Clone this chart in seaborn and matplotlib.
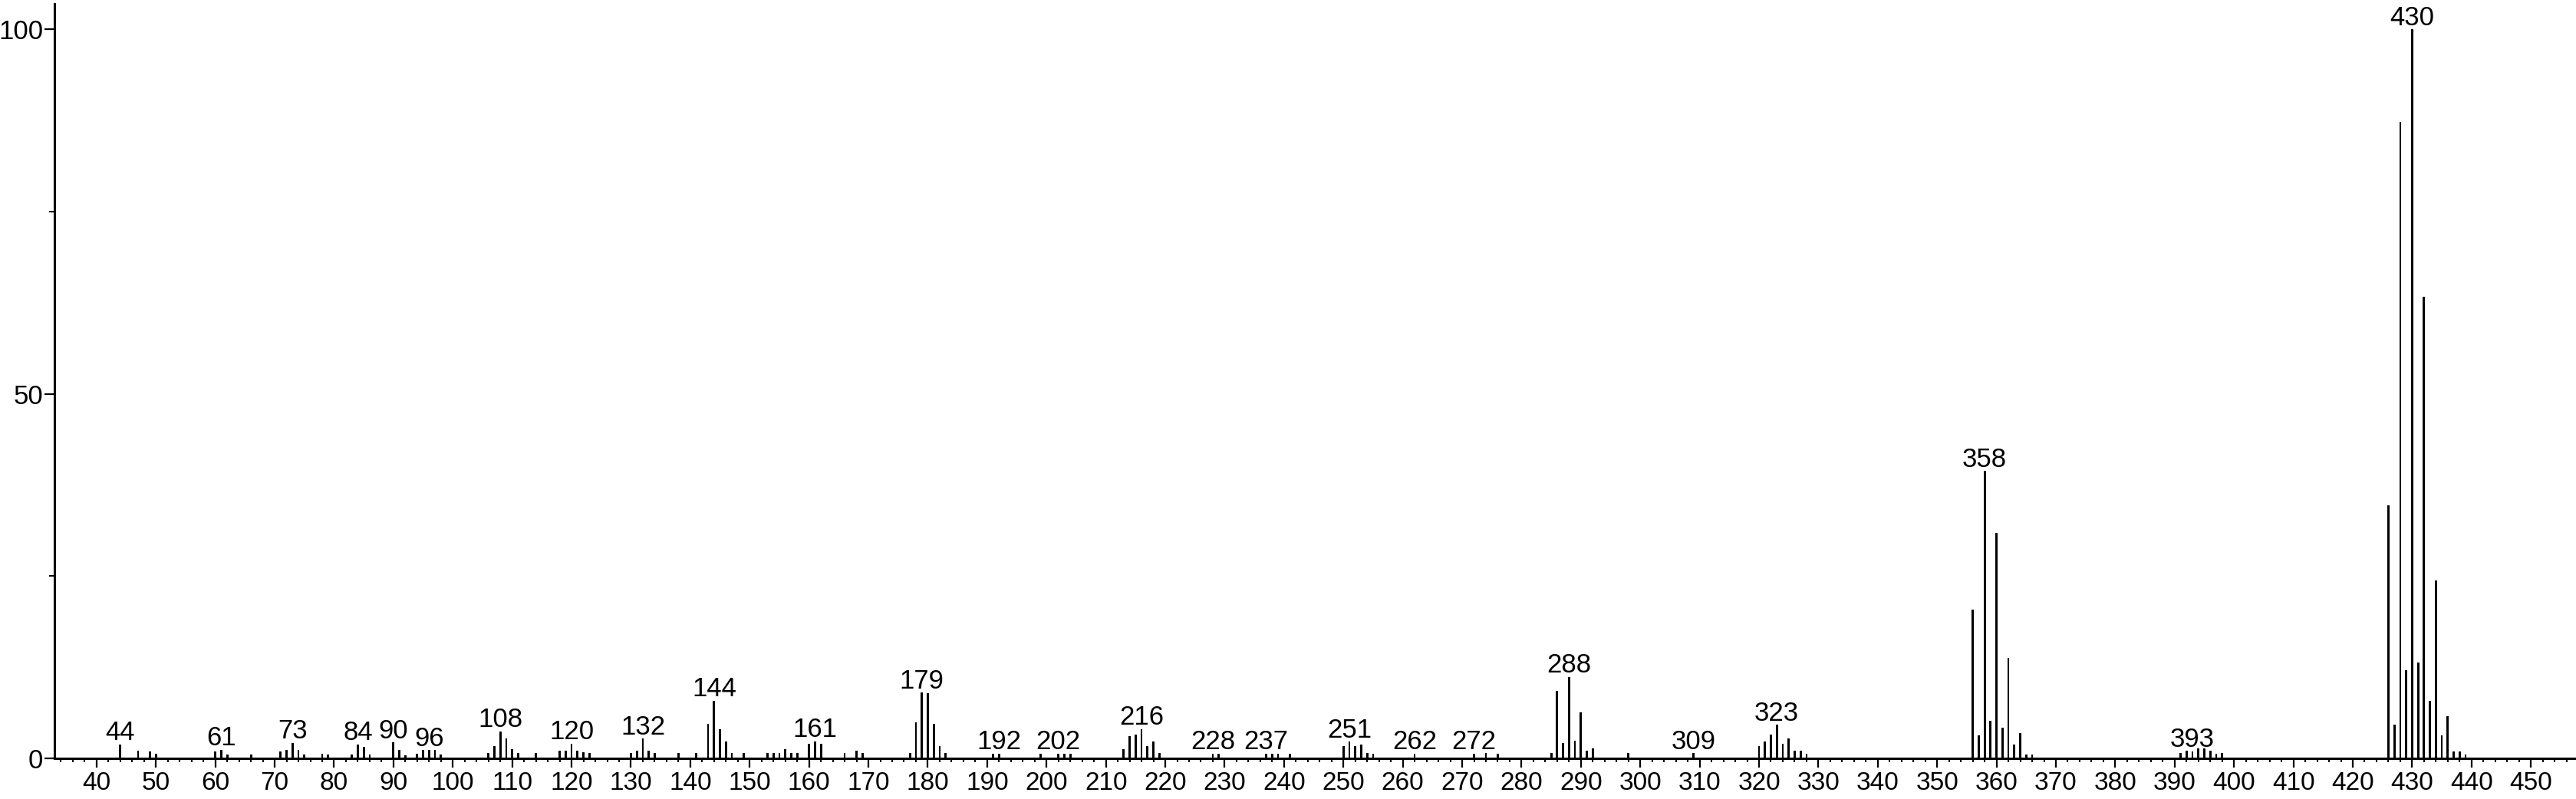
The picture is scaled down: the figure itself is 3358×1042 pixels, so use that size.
import matplotlib
matplotlib.use("Agg")
import matplotlib.pyplot as plt
import seaborn as sns
import pandas as pd
from matplotlib.ticker import MultipleLocator, FixedLocator

# ---- data (m/z and relative intensity) ----
mz = [44, 47, 49, 50, 60, 61, 62, 66, 71, 72, 73, 74, 75, 78, 79, 83, 84, 85, 86,
      90, 91, 92, 94, 95, 96, 97, 98, 106, 107, 108, 109, 110, 111, 114, 118, 119,
      120, 121, 122, 123, 130, 131, 132, 133, 134, 138, 141, 143, 144, 145, 146,
      147, 149, 153, 154, 155, 156, 157, 158, 160, 161, 162, 166, 168, 169, 177,
      178, 179, 180, 181, 182, 183, 191, 192, 199, 202, 203, 204, 213, 214, 215,
      216, 217, 218, 219, 228, 229, 237, 238, 239, 241, 250, 251, 252, 253, 254,
      255, 262, 272, 274, 276, 285, 286, 287, 288, 289, 290, 291, 292, 298, 309,
      320, 321, 322, 323, 324, 325, 326, 327, 328, 356, 357, 358, 359, 360, 361,
      362, 363, 364, 365, 366, 391, 392, 393, 394, 395, 396, 397, 398, 426, 427,
      428, 429, 430, 431, 432, 433, 434, 435, 436, 437, 438, 439]
intensity = [1.9, 1.0, 0.9, 0.6, 0.9, 1.2, 0.55, 0.55, 0.9, 1.2, 2.1, 1.2, 0.55, 0.6,
             0.55, 0.55, 1.9, 1.6, 0.55, 2.2, 1.2, 0.45, 0.6, 1.15, 1.15, 1.15, 0.55,
             0.7, 1.7, 3.7, 2.7, 1.3, 0.7, 0.7, 1.0, 1.0, 2.0, 1.0, 0.8, 0.7, 0.7,
             1.0, 2.7, 1.0, 0.7, 0.7, 0.7, 4.7, 7.9, 4.0, 2.35, 0.7, 0.7, 0.7, 0.7,
             0.7, 1.3, 0.7, 0.7, 2.0, 2.35, 2.0, 0.7, 1.0, 0.7, 0.7, 4.9, 9.0, 8.9,
             4.7, 1.7, 0.7, 0.65, 0.65, 0.65, 0.65, 0.65, 0.65, 1.3, 3.0, 3.3, 4.0,
             1.7, 2.3, 0.7, 0.65, 0.65, 0.65, 0.65, 0.65, 0.65, 1.7, 2.3, 1.7, 1.9,
             0.7, 0.65, 0.65, 0.65, 0.7, 0.65, 0.7, 9.3, 2.1, 11.2, 2.4, 6.3, 1.05,
             1.4, 0.7, 0.7, 1.7, 2.3, 3.3, 4.6, 2.0, 2.7, 1.0, 1.0, 0.65, 20.4, 3.2,
             39.4, 5.2, 30.9, 4.2, 13.8, 1.9, 3.5, 0.55, 0.55, 0.7, 1.0, 0.95, 1.35,
             1.35, 1.0, 0.6, 0.7, 34.7, 4.6, 87.3, 12.1, 100.0, 13.1, 63.3, 7.9, 24.4,
             3.2, 5.8, 0.9, 0.9, 0.5]
labeled_mz = [44, 61, 73, 84, 90, 96, 108, 120, 132, 144, 161, 179, 192, 202, 216,
              228, 237, 251, 262, 272, 288, 309, 323, 358, 393, 430]
x_ticks = list(range(40, 451, 10))
y_ticks = [0, 50, 100]
y_minor_ticks = [25, 75]

# ---- style ----
sns.set_style("ticks")
plt.rcParams['font.family'] = ['Liberation Sans', 'DejaVu Sans']

W, H = 3358, 1042
fig = plt.figure(figsize=(W / 100, H / 100), dpi=100)
left_px, bottom_px, top_px = 70.7, 53, 5
ax = fig.add_axes([left_px / W, bottom_px / H, 1 - left_px / W, (H - bottom_px - top_px) / H])

df = pd.DataFrame({"mz": mz, "intensity": intensity})
sns.barplot(data=df, x="mz", y="intensity", native_scale=True, color="black",
            saturation=1, width=0.36, errorbar=None, linewidth=0, ax=ax)

ax.set_xlim(32.87, 457.6)
ax.set_ylim(0, 103.5)
ax.set_xlabel("")
ax.set_ylabel("")
sns.despine(ax=ax)
for s in ("left", "bottom"):
    ax.spines[s].set_color("black")
    ax.spines[s].set_linewidth(2.2)

ax.xaxis.set_major_locator(FixedLocator(x_ticks))
ax.set_xticklabels([str(t) for t in x_ticks])
ax.xaxis.set_minor_locator(MultipleLocator(2))
ax.yaxis.set_major_locator(FixedLocator(y_ticks))
ax.set_yticklabels([str(t) for t in y_ticks])
ax.yaxis.set_minor_locator(FixedLocator(y_minor_ticks))

ax.tick_params(axis="x", which="major", direction="out", length=8.5, width=1.6,
               colors="black", labelsize=24, pad=3.5)
ax.tick_params(axis="x", which="minor", direction="out", length=3.8, width=1.4,
               colors="black")
ax.tick_params(axis="y", which="major", direction="out", length=9.5, width=1.6,
               colors="black", labelsize=25, pad=1)
ax.tick_params(axis="y", which="minor", direction="out", length=5, width=1.4,
               colors="black")

lookup = dict(zip(mz, intensity))
for m in labeled_mz:
    ax.annotate(str(m), xy=(m, lookup[m]), xytext=(0, 4), textcoords="offset points",
                ha="center", va="baseline", fontsize=25, color="black",
                annotation_clip=False)

fig.savefig("out.png", dpi=100, facecolor="white")
